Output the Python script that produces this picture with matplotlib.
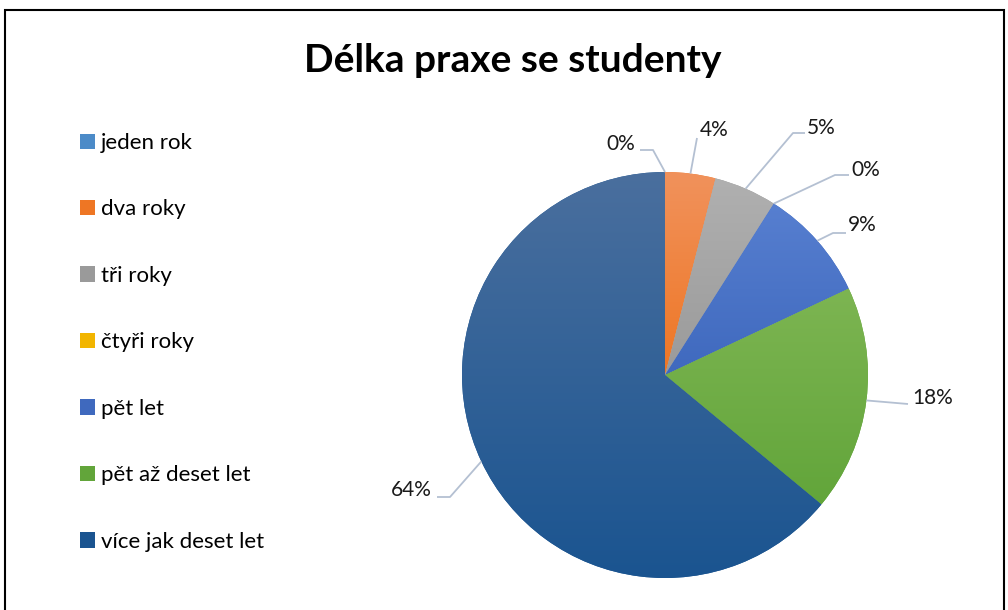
import matplotlib
matplotlib.use("Agg")
import matplotlib.pyplot as plt
import numpy as np
from matplotlib.colors import to_rgb
from matplotlib.patches import Rectangle

# ---- data ----
categories = ["jeden rok", "dva roky", "tři roky", "čtyři roky", "pět let",
              "pět až deset let", "více jak deset let"]
percent = [0, 4, 5, 0, 9, 18, 64]
label_texts = ["0%", "4%", "5%", "0%", "9%", "18%", "64%"]

# ---- styles ----
top_colors = ["#6AA6DE", "#F1925C", "#B0B0B0", "#FFCA30", "#577FD0", "#7DB552", "#4A6F9E"]
bot_colors = ["#4C8BC8", "#EE7624", "#9A9A9A", "#F2B500", "#3F69BE", "#62A53A", "#1A5490"]

FONT = ["Lato", "DejaVu Sans"]
plt.rcParams["font.family"] = FONT

W, H = 1008, 610
fig = plt.figure(figsize=(W / 100, H / 100), dpi=100)

# frame border
fig.add_artist(Rectangle((5 / W, -0.02), (1004 - 5) / W, 1 - 10 / H + 0.02,
                         transform=fig.transFigure, fill=False,
                         edgecolor="black", linewidth=1.5))

fig.text(513 / W, 1 - 61 / H, "Délka praxe se studenty", ha="center", va="center",
         fontsize=28, fontweight="bold", color="black")

# axes: 1 data unit = R px; centre at (cx, cy) px
cx, cy, R = 665, 375, 203
ax = fig.add_axes([0.3, 0, 0.7, 1])
x0_px, x1_px = 0.3 * W, W
ax.set_axis_off()

wedges, _ = ax.pie(percent, startangle=90, counterclock=False, radius=1,
                   colors=bot_colors, wedgeprops=dict(linewidth=0))
ax.set_xlim((x0_px - cx) / R, (x1_px - cx) / R)
ax.set_ylim(-(H - cy) / R, cy / R)
ax.set_aspect("auto")

# vertical gradient inside each wedge
for w, ct, cb in zip(wedges, top_colors, bot_colors):
    if w.theta2 - w.theta1 <= 0:
        continue
    verts = w.get_path().vertices
    xmin, xmax = verts[:, 0].min(), verts[:, 0].max()
    ymin, ymax = verts[:, 1].min(), verts[:, 1].max()
    t = np.linspace(0, 1, 256)[:, None]
    c1, c2 = np.array(to_rgb(ct)), np.array(to_rgb(cb))
    grad = (1 - t)[:, :, None] * c1 + t[:, :, None] * c2
    grad = np.repeat(grad, 2, axis=1)
    im = ax.imshow(grad, extent=[xmin, xmax, ymin, ymax], origin="upper",
                   aspect="auto", zorder=2, interpolation="bilinear")
    im.set_clip_path(w)
    w.set_zorder(1)

# labels with leader lines (layout in px)
# (elbow px, end px, text px, ha)
layout = [
    ((653, 150), (640, 150), (635, 144), "right"),
    (None, (697, 138), (700, 130), "left"),
    ((793, 133), (805, 133), (807, 128), "left"),
    ((835, 175), (849, 175), (851, 170), "left"),
    ((833, 233), (846, 233), (848, 225), "left"),
    (None, (908, 404), (912, 398), "left"),
    ((450, 497), (437, 497), (432, 490), "right"),
]

def px2d(p):
    return ((p[0] - cx) / R, (cy - p[1]) / R)

for w, txt, (elbow, end, tpos, ha) in zip(wedges, label_texts, layout):
    mid = np.deg2rad((w.theta1 + w.theta2) / 2)
    start = (np.cos(mid), np.sin(mid))
    pts = [start]
    if elbow is not None:
        pts.append(px2d(elbow))
    pts.append(px2d(end))
    pts = np.array(pts)
    ax.plot(pts[:, 0], pts[:, 1], color="#B4C0D2", linewidth=1.3, zorder=3,
            solid_capstyle="butt")
    tx, ty = px2d(tpos)
    ax.text(tx, ty, txt, ha=ha, va="center", fontsize=15, color="#1a1a1a", zorder=4)

# legend
leg = fig.legend(wedges, categories, loc="upper left",
                 bbox_to_anchor=(60 / W, 1 - 113 / H), frameon=False,
                 fontsize=16, labelspacing=2.09, handlelength=0.68,
                 handleheight=0.68, handletextpad=0.25)
for h, ct, cb in zip(leg.legend_handles, top_colors, bot_colors):
    h.set_facecolor(cb)

fig.savefig("out.png", dpi=100)
